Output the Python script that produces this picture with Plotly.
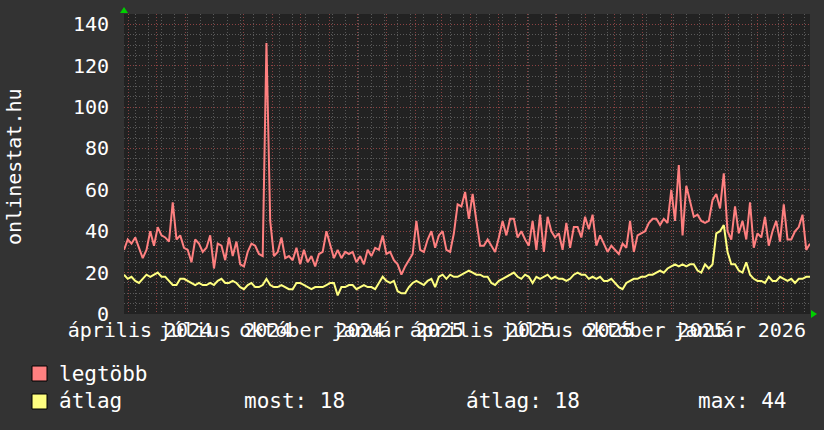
import plotly.graph_objects as go
import pandas as pd

# ---------------- data ----------------
START = "2024-03-27"
END = "2026-03-29"
dates = pd.date_range(START, periods=184, freq="4D")

legtobb = [
    31, 36, 34, 37, 32, 27, 31, 40, 33, 42, 38, 37, 35, 54, 36, 38, 32, 31, 25, 36, 34, 30, 32, 38, 22, 34, 33, 26, 37, 28, 35,
    24, 23, 30, 34, 33, 29, 28, 131, 45, 28, 30, 37, 27, 28, 26, 32, 24, 31, 25, 28, 23, 29, 30, 40, 33, 27, 31, 27, 30, 29,
    30, 25, 28, 24, 31, 28, 32, 31, 38, 29, 30, 26, 24, 19, 23, 26, 29, 45, 31, 30, 36, 40, 32, 38, 40, 31, 30, 39, 53, 52, 59,
    46, 58, 45, 33, 33, 36, 33, 30, 37, 45, 38, 46, 46, 37, 40, 36, 33, 45, 31, 48, 30, 47, 40, 37, 39, 31, 44, 32, 42, 42,
    37, 47, 41, 48, 33, 38, 34, 30, 33, 31, 29, 34, 32, 45, 30, 38, 39, 40, 44, 46, 46, 43, 46, 44, 60, 45, 72, 38, 62, 55,
    47, 48, 45, 44, 45, 55, 58, 51, 68, 40, 36, 52, 39, 45, 36, 54, 32, 39, 37, 47, 33, 40, 45, 35, 53, 36, 36, 40, 42, 48, 31, 34,
]
atlag = [
    19, 17, 18, 16, 15, 17, 19, 18, 19, 20, 18, 18, 16, 14, 14, 17, 17, 16, 15, 14, 15, 14, 14, 15, 14, 16, 17, 15, 15, 16, 15,
    13, 12, 14, 15, 13, 13, 14, 17, 14, 13, 13, 14, 13, 12, 12, 15, 15, 14, 13, 12, 13, 13, 13, 14, 15, 15, 9, 13, 13, 14,
    14, 12, 13, 14, 13, 13, 12, 15, 18, 16, 15, 16, 11, 10, 10, 13, 15, 16, 15, 14, 16, 17, 13, 18, 19, 17, 19, 18, 18, 19, 20,
    21, 20, 19, 19, 18, 18, 15, 14, 16, 17, 18, 19, 20, 18, 17, 19, 18, 15, 18, 17, 18, 19, 17, 18, 17, 17, 16, 17, 19, 20,
    19, 19, 17, 18, 17, 18, 16, 16, 17, 15, 13, 12, 15, 16, 17, 17, 18, 18, 19, 19, 20, 21, 20, 22, 23, 24, 23, 24, 23, 24,
    24, 21, 20, 24, 22, 24, 39, 40, 43, 30, 24, 24, 21, 20, 25, 19, 17, 16, 16, 15, 18, 16, 16, 18, 17, 16, 17, 15, 17, 17, 18, 18,
]
assert len(legtobb) == len(dates) == len(atlag)

tick_dates = ["2024-04-13", "2024-07-13", "2024-10-13", "2025-01-13",
              "2025-04-13", "2025-07-13", "2025-10-13", "2026-01-13"]
tick_labels = ["április 2024", "július 2024", "október 2024", "január 2025",
               "április 2025", "július 2025", "október 2025", "január 2026"]
month_lines = pd.date_range("2024-04-01", "2026-03-01", freq="MS")

y_title = "onlinestat.hu"
legend_names = ["legtöbb", "átlag"]
stats = ["most: 18", "átlag: 18", "max: 44"]

# ---------------- styling ----------------
FONT = "DejaVu Sans Mono"
RED = "#ff8080"
YEL = "#ffff80"
W, H = 824, 430
L, R, T, B = 124, 14, 14, 116
PW, PH = W - L - R, H - T - B


def px(x):
    return (x - L) / PW


def py(y):
    return (T + PH - y) / PH


fig = go.Figure()
# helper trace so the overlaid grid axis is drawn
fig.add_trace(go.Scatter(x=[dates[0]], y=[None], xaxis="x2", showlegend=False,
                         hoverinfo="skip", mode="lines"))
fig.add_trace(go.Scatter(x=dates, y=legtobb, mode="lines", name=legend_names[0],
                         line=dict(color=RED, width=2), showlegend=False))
fig.add_trace(go.Scatter(x=dates, y=atlag, mode="lines", name=legend_names[1],
                         line=dict(color=YEL, width=2), showlegend=False))

fig.update_layout(
    width=W, height=H,
    margin=dict(l=L, r=R, t=T, b=B, pad=0),
    paper_bgcolor="#333333",
    plot_bgcolor="#222222",
    font=dict(family=FONT, color="#ffffff", size=20),
    xaxis=dict(
        type="date", range=[START, END], automargin=False, tickangle=0,
        tickmode="array", tickvals=tick_dates, ticktext=tick_labels,
        showgrid=False, zeroline=False, showline=False, ticks="",
        tickfont=dict(family=FONT, size=20, color="#ffffff"),
        ticklabelstandoff=2,
        minor=dict(tickmode="array", tickvals=list(month_lines), showgrid=True,
                   gridcolor="#8a4242", griddash="1px,2px", gridwidth=1),
    ),
    xaxis2=dict(
        type="date", range=[START, END], overlaying="x", side="bottom",
        automargin=False,
        tickmode="linear", tick0="2024-04-22", dtick=14 * 86400000,
        showticklabels=False, showgrid=True, gridcolor="#5a5a5a",
        griddash="1px,2px", gridwidth=1, zeroline=False, ticks="",
    ),
    yaxis=dict(
        range=[0, 145], tickmode="linear", tick0=0, dtick=20, automargin=False,
        showgrid=True, gridcolor="#8a4242", griddash="1px,2px", gridwidth=1,
        zeroline=False, showline=False, ticks="",
        tickfont=dict(family=FONT, size=20, color="#ffffff"),
        ticklabelstandoff=14,
        minor=dict(tickmode="linear", tick0=0, dtick=5, showgrid=True,
                   gridcolor="#5a5a5a", griddash="1px,2px", gridwidth=1),
    ),
    showlegend=False,
)

annotations = [
    dict(text=y_title, textangle=-90, x=px(14), y=py(167), xref="paper", yref="paper",
         xanchor="center", yanchor="middle", showarrow=False,
         font=dict(family=FONT, size=20, color="#ffffff")),
    dict(text=legend_names[0], x=px(57), y=py(374), xref="paper", yref="paper",
         xanchor="left", yanchor="middle", showarrow=False,
         font=dict(family=FONT, size=21, color="#ffffff")),
    dict(text=legend_names[1], x=px(57), y=py(401), xref="paper", yref="paper",
         xanchor="left", yanchor="middle", showarrow=False,
         font=dict(family=FONT, size=21, color="#ffffff")),
]
for s, xx in zip(stats, [242, 464, 696]):
    annotations.append(dict(text=s, x=px(xx), y=py(401), xref="paper", yref="paper",
                            xanchor="left", yanchor="middle", showarrow=False,
                            font=dict(family=FONT, size=21, color="#ffffff")))
fig.update_layout(annotations=annotations)

shapes = [
    # legend swatches
    dict(type="rect", xref="paper", yref="paper", xsizemode="pixel", ysizemode="pixel",
         xanchor=0, yanchor=0, x0=32 - L, x1=47 - L, y0=-(381 - (T + PH)), y1=-(366 - (T + PH)),
         fillcolor=RED, line=dict(color="#000000", width=1)),
    dict(type="rect", xref="paper", yref="paper", xsizemode="pixel", ysizemode="pixel",
         xanchor=0, yanchor=0, x0=32 - L, x1=47 - L, y0=-(409 - (T + PH)), y1=-(394 - (T + PH)),
         fillcolor=YEL, line=dict(color="#000000", width=1)),
    # axis arrows
    dict(type="path", xref="paper", yref="paper", xsizemode="pixel", ysizemode="pixel",
         xanchor=0, yanchor=1, path="M -4,1 L 4,1 L 0,7 Z",
         fillcolor="#00d000", line=dict(width=0)),
    dict(type="path", xref="paper", yref="paper", xsizemode="pixel", ysizemode="pixel",
         xanchor=1, yanchor=0, path="M 1,-4 L 1,4 L 7,0 Z",
         fillcolor="#00d000", line=dict(width=0)),
]
fig.update_layout(shapes=shapes)

fig.write_html(
    "out.html",
    config={"displayModeBar": False},
    post_script="document.body.style.margin='0';document.body.style.padding='0';"
                "document.body.style.background='#333333';",
)
